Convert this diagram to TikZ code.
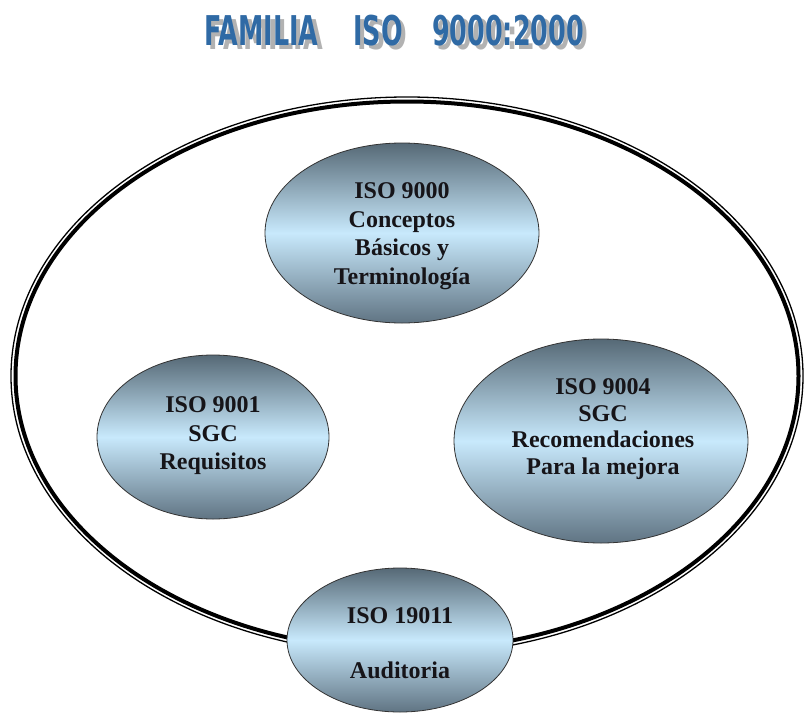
\documentclass[tikz,border=0pt]{standalone}
\usepackage{fontspec}
\setmainfont{Liberation Serif}
\newfontfamily\titlefont{DejaVu Sans}
\usetikzlibrary{shapes.geometric}

\definecolor{titleblue}{RGB}{47,106,165}
\definecolor{titleshadow}{RGB}{178,178,178}
\definecolor{bubbletop}{RGB}{86,105,118}
\definecolor{bubblemid}{RGB}{200,233,252}
\definecolor{bubblebot}{RGB}{96,116,131}
\definecolor{inkdark}{RGB}{22,20,24}

\tikzset{
  bubble/.style={ellipse, inner sep=0pt, draw=black!80, line width=0.8pt,
    top color=bubbletop, bottom color=bubblebot, middle color=bubblemid},
  caption/.style={align=center, text=inkdark, inner sep=0pt,
    font=\bfseries\fontsize{24}{28.5}\selectfont},
  titletext/.style={anchor=base, inner sep=0pt,
    font=\titlefont\bfseries\fontsize{41}{41}\selectfont},
  ring/.style={draw=black}
}

% a squeezed heading word
\newcommand\squeezed[1]{\scalebox{0.62}[1]{#1}}
% heading word in blue over a grey drop shadow that takes no width
\newcommand\shadowedword[1]{%
  \makebox[0pt][l]{\hspace{4.5pt}\raisebox{-4.5pt}{\textcolor{titleshadow}{\squeezed{#1}}}}%
  \textcolor{titleblue}{\squeezed{#1}}}

\begin{document}
\begin{tikzpicture}[x=1pt, y=-1pt]
  \useasboundingbox[fill=white] (0,0) rectangle (806,715);

  % heading
  \node[titletext] (wfamilia) at (261.5,45) {\shadowedword{FAMILIA}};
  \node[titletext] (wiso) at (378,45) {\shadowedword{ISO}};
  \node[titletext] (wyear) at (508,45) {\shadowedword{9000:2000}};

  % outer ring: thin rule outside, heavy rule inside
  \draw[ring, line width=1.3pt] (407,376) ellipse [x radius=396pt, y radius=279pt];
  \draw[ring, line width=4pt] (407,376) ellipse [x radius=391.5pt, y radius=274.5pt];

  % standards of the family
  \node[bubble, minimum width=274pt, minimum height=180pt] (iso9000) at (402,233) {};
  \node[caption] (iso9000txt) at ([yshift=-3pt]iso9000.center)
    {ISO 9000\\Conceptos\\Básicos y\\Terminología};

  \node[bubble, minimum width=232pt, minimum height=164pt] (iso9001) at (213,437) {};
  \node[caption] (iso9001txt) at ([yshift=1pt]iso9001.center)
    {ISO 9001\\SGC\\Requisitos};

  \node[bubble, minimum width=294pt, minimum height=204pt] (iso9004) at (601,441) {};
  \node[caption, font=\bfseries\fontsize{24}{26.5}\selectfont] (iso9004txt) at (603,429)
    {ISO 9004\\SGC\\Recomendaciones\\Para la mejora};

  \node[bubble, minimum width=226pt, minimum height=144pt] (iso19011) at (400,640) {};
  \node[caption] (iso19011txt) at ([yshift=-3pt]iso19011.center)
    {ISO 19011\\[27pt]Auditoria};
\end{tikzpicture}
\end{document}
